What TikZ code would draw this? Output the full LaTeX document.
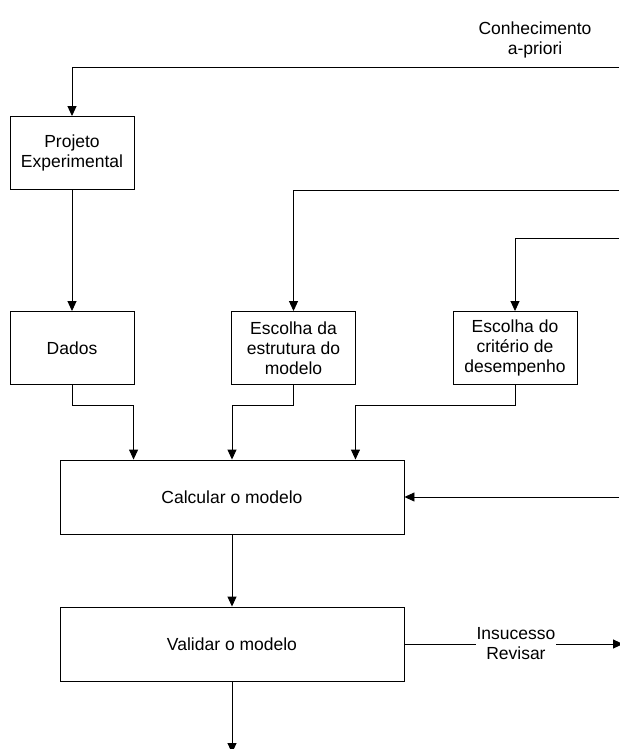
\documentclass[tikz,border=0pt]{standalone}
\usepackage{fontspec}
\setmainfont{Liberation Sans}
\usetikzlibrary{arrows.meta}

\begin{document}
\begin{tikzpicture}[x=1pt,y=-1pt,line width=0.9pt,
  caixa/.style={draw,minimum width=124pt,minimum height=73pt,align=center,inner sep=0pt},
  bloco/.style={draw,minimum width=344pt,minimum height=74pt,inner sep=0pt},
  seta/.style={-{Triangle[length=10pt,width=9pt]}}]
\tikzstyle{every node}+=[font=\fontsize{17.5}{20}\selectfont]
\useasboundingbox (0,0) rectangle (619,749);
% caixas
\node[caixa] (proj) at (72,153) {Projeto\\Experimental};
\node[caixa] (dados) at (72,348) {Dados};
\node[caixa] (estr) at (293.5,348) {Escolha da\\estrutura do\\modelo};
\node[caixa] (crit) at (515,348) {Escolha do\\crit\'erio de\\desempenho};
\node[bloco] (calc) at (232,497) {Calcular o modelo};
\node[bloco] (valid) at (232,644) {Validar o modelo};
\node[align=center,inner sep=0pt] (conh) at (535,40) {Conhecimento\\a-priori};
% pontas na borda
\coordinate (k1) at (619,67);
\coordinate (k2) at (619,190);
\coordinate (k3) at (619,238);
\coordinate (k4) at (619,497);
\coordinate (k5) at (623,644);
\coordinate (k6) at (232,753);
% ligacoes
\draw[seta] (k1) -| (proj.north);
\draw[seta] (k2) -| (estr.north);
\draw[seta] (k3) -| (crit.north);
\draw[seta] (proj) -- (dados);
\draw[seta] (dados.south) -- ++(0,20) -| ([xshift=74pt]calc.north west);
\draw[seta] (estr.south) -- ++(0,20) -| (calc.north);
\draw[seta] (crit.south) -- ++(0,20) -| ([xshift=-49pt]calc.north east);
\draw[seta] (k4) -- (calc.east);
\draw[seta] (calc) -- (valid);
\draw[seta] (valid.east) -- node[pos=0.51,fill=white,align=center,inner sep=1pt] {Insucesso\\Revisar} (k5);
\draw[seta] (valid.south) -- (k6);
\end{tikzpicture}
\end{document}
